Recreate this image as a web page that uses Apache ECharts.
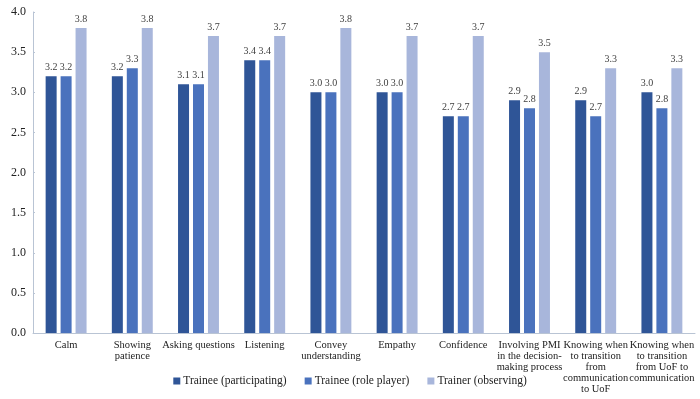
<!DOCTYPE html>
<html>
<head>
<meta charset="utf-8">
<script src="https://cdn.jsdelivr.net/npm/echarts@6/dist/echarts.min.js"></script>
<style>
  html, body { margin: 0; padding: 0; background: #fff; }
  #main { width: 700px; height: 399px; }
</style>
</head>
<body>
<div id="main"></div>
<script>
// categories (line breaks as in the original figure)
var skills = [
    'Calm',
    'Showing\npatience',
    'Asking questions',
    'Listening',
    'Convey\nunderstanding',
    'Empathy',
    'Confidence',
    'Involving PMI\nin the decision-\nmaking process',
    'Knowing when\nto transition\nfrom\ncommunication\nto UoF',
    'Knowing when\nto transition\nfrom UoF to\ncommunication'
];
var traineeParticipating = [3.2, 3.2, 3.1, 3.4, 3.0, 3.0, 2.7, 2.9, 2.9, 3.0];
var traineeRolePlayer = [3.2, 3.3, 3.1, 3.4, 3.0, 3.0, 2.7, 2.8, 2.7, 2.8];
var trainerObserving = [3.8, 3.8, 3.7, 3.7, 3.8, 3.7, 3.7, 3.5, 3.3, 3.3];

var font = '"Liberation Serif", "Times New Roman", serif';

function bar(name, data, color) {
    return {
        name: name,
        type: 'bar',
        data: data,
        barWidth: 11,
        barGap: '36%',
        itemStyle: { color: color },
        label: {
            show: true,
            position: 'top',
            distance: 4,
            color: '#404040',
            fontFamily: font,
            fontSize: 10,
            formatter: function (p) { return p.value.toFixed(1); }
        }
    };
}

var myChart = echarts.init(document.getElementById('main'));
var option = {
    animation: false,
    textStyle: { fontFamily: font },
    grid: { left: 33, right: 5, top: 12, bottom: 66 },
    legend: {
        bottom: 7,
        left: 'center',
        itemWidth: 7,
        itemHeight: 7,
        itemGap: 18,
        icon: 'rect',
        textStyle: { fontFamily: font, fontSize: 11.5, color: '#222', padding: [0, 0, 0, -2] },
        data: ['Trainee (participating)', 'Trainee (role player)', 'Trainer (observing)']
    },
    xAxis: {
        type: 'category',
        data: skills,
        axisLine: { lineStyle: { color: '#b9c4d4' } },
        axisTick: { show: false },
        axisLabel: {
            interval: 0,
            color: '#222',
            fontFamily: font,
            fontSize: 10.5,
            lineHeight: 11,
            margin: 7
        }
    },
    yAxis: {
        type: 'value',
        min: 0,
        max: 4,
        interval: 0.5,
        axisLine: { show: true, lineStyle: { color: '#b9c4d4' } },
        axisTick: { show: true, inside: true, length: 2, lineStyle: { color: '#b9c4d4' } },
        splitLine: { show: false },
        axisLabel: {
            color: '#222',
            fontFamily: font,
            fontSize: 12,
            margin: 7,
            formatter: function (v) { return v.toFixed(1); }
        }
    },
    series: [
        bar('Trainee (participating)', traineeParticipating, '#2f5597'),
        bar('Trainee (role player)', traineeRolePlayer, '#4a72bd'),
        bar('Trainer (observing)', trainerObserving, '#a8b6db')
    ]
};
myChart.setOption(option);
</script>
</body>
</html>
